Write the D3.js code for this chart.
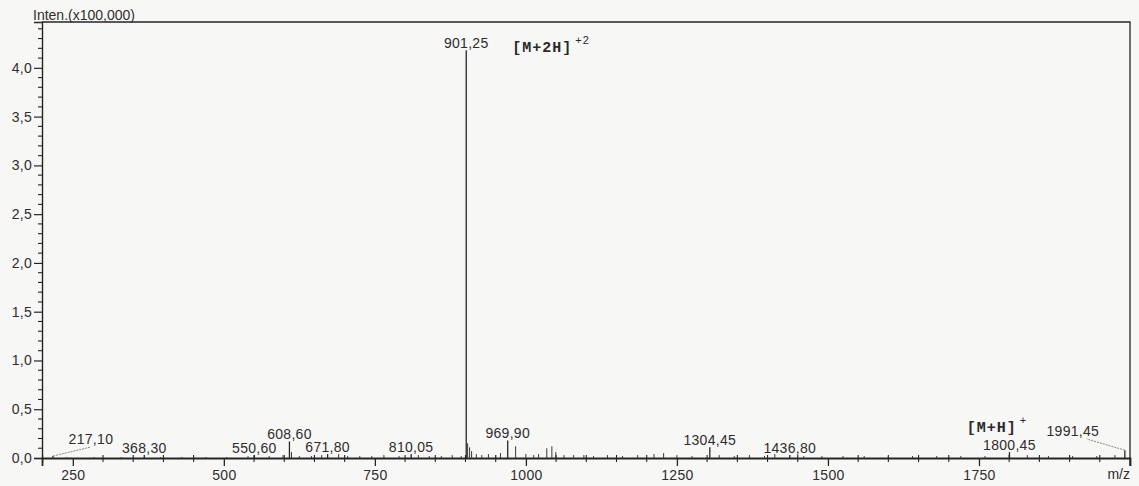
<!DOCTYPE html>
<html>
<head>
<meta charset="utf-8">
<script src="https://cdn.jsdelivr.net/npm/d3@7"></script>
<style>
  html, body { margin: 0; padding: 0; background: #f7f7f5; }
  svg { display: block; font-family: "Liberation Sans", Arial, sans-serif; }
</style>
</head>
<body>
<div id="chart"></div>
<script>
// labelled peaks (m/z, intensity x100,000)
var labelMz  = [217.10, 368.30, 550.60, 608.60, 671.80, 810.05, 901.25, 969.90, 1304.45, 1436.80, 1800.45, 1991.45];
var labelInt = [0.02,   0.03,   0.03,   0.17,   0.04,   0.04,   4.18,   0.18,   0.11,    0.03,    0.06,    0.08];

// small unlabelled peaks along the baseline
var noiseMz  = [240, 285, 330, 395, 430, 470, 505, 540, 575, 598, 612, 625, 645, 662, 690, 705, 725, 745, 765, 790,
                822, 840, 860, 878, 893, 903.5, 906.8, 910.1, 918, 927, 938, 950, 958, 983, 1000, 1013, 1021, 1034.6,
                1043, 1049.5, 1063, 1079, 1096, 1112, 1135, 1160, 1185, 1212, 1228, 1250, 1275, 1320, 1345, 1370,
                1395, 1412, 1460, 1490, 1525, 1560, 1600, 1640, 1680, 1720, 1760, 1830, 1865, 1905, 1945, 1975];
var noiseInt = [0.01, 0.01, 0.01, 0.01, 0.01, 0.01, 0.01, 0.02, 0.02, 0.03, 0.06, 0.02, 0.02, 0.03, 0.04, 0.02, 0.02, 0.02, 0.03, 0.02,
                0.03, 0.02, 0.02, 0.03, 0.02, 0.15, 0.11, 0.07, 0.04, 0.03, 0.04, 0.03, 0.05, 0.12, 0.04, 0.03, 0.04, 0.10,
                0.12, 0.06, 0.03, 0.03, 0.03, 0.02, 0.03, 0.02, 0.03, 0.04, 0.05, 0.03, 0.02, 0.03, 0.02, 0.03,
                0.02, 0.04, 0.02, 0.02, 0.02, 0.02, 0.02, 0.02, 0.02, 0.02, 0.02, 0.03, 0.02, 0.02, 0.02, 0.03];

var yMajor = [0, 0.5, 1.0, 1.5, 2.0, 2.5, 3.0, 3.5, 4.0];
var xMajor = [250, 500, 750, 1000, 1250, 1500, 1750];

var ionText   = ["[M+2H]", "[M+H]"];
var ionCharge = ["+2", "+"];
var ionPeak   = [901.25, 1991.45];

var width = 1139, height = 486;
var ink = "#262626";

var x = d3.scaleLinear().domain([199, 2000]).range([42, 1130]);
var y = d3.scaleLinear().domain([0, 4.47]).range([458, 22]);

var svg = d3.select("#chart").append("svg")
      .attr("width", width)
      .attr("height", height);

var commaFmt = function(v, digits){ return d3.format("." + digits + "f")(v).replace(".", ","); };

// frame: top line, right line
svg.append("path")
  .attr("d", "M" + x.range()[0] + "," + y.range()[1] + "H" + x.range()[1] + "V" + (y(0) + 8))
  .attr("fill", "none").attr("stroke", ink).attr("stroke-width", 1.3);

// y axis
var yAxis = svg.append("g")
  .attr("transform", "translate(" + x.range()[0] + ",0)")
  .call(d3.axisLeft(y).tickValues(yMajor).tickSize(8).tickPadding(2)
        .tickFormat(function(d){ return commaFmt(d, 1); }));
yAxis.select(".domain").attr("stroke", ink).attr("stroke-width", 1.4);
yAxis.selectAll(".tick line").attr("stroke", ink).attr("stroke-width", 1.2);
yAxis.selectAll(".tick text").attr("fill", "#2e2e2e").style("font-size", "14px")
  .style("letter-spacing", "0.3px").attr("font-family", null);

var yMinor = d3.range(0, 4.45, 0.1).filter(function(v){ return Math.abs(v * 2 - Math.round(v * 2)) > 1e-6; });
svg.append("g").selectAll("line").data(yMinor).enter().append("line")
  .attr("x1", x.range()[0] - 4).attr("x2", x.range()[0])
  .attr("y1", function(d){ return y(d); }).attr("y2", function(d){ return y(d); })
  .attr("stroke", ink).attr("stroke-width", 1.1);

// x axis
var xAxis = svg.append("g")
  .attr("transform", "translate(0," + y(0) + ")")
  .call(d3.axisBottom(x).tickValues(xMajor).tickSize(8).tickPadding(4).tickFormat(d3.format("d")));
xAxis.select(".domain").attr("stroke", ink).attr("stroke-width", 1.8);
xAxis.selectAll(".tick line").attr("stroke", ink).attr("stroke-width", 1.3);
xAxis.selectAll(".tick text").attr("fill", "#2e2e2e").style("font-size", "14px")
  .style("letter-spacing", "0.3px").attr("font-family", null);

var xMinor = d3.range(200, 2000, 50).filter(function(v){ return v % 250 !== 0; });
svg.append("g").selectAll("line").data(xMinor).enter().append("line")
  .attr("x1", function(d){ return x(d); }).attr("x2", function(d){ return x(d); })
  .attr("y1", y(0) - 3).attr("y2", y(0) + 4)
  .attr("stroke", ink).attr("stroke-width", 1.1);

// axis titles
svg.append("text")
  .attr("x", 33).attr("y", 20)
  .attr("fill", "#2e2e2e").style("font-size", "14px")
  .text("Inten.(x100,000)");
svg.append("text")
  .attr("x", x.range()[1]).attr("y", 479).attr("text-anchor", "end")
  .attr("fill", "#2e2e2e").style("font-size", "14px")
  .text("m/z");

// baseline noise peaks
svg.append("g").selectAll("line").data(noiseMz).enter().append("line")
  .attr("x1", function(d){ return x(d); }).attr("x2", function(d){ return x(d); })
  .attr("y1", y(0)).attr("y2", function(d, i){ return y(noiseInt[i]); })
  .attr("stroke", "#3a3a3a").attr("stroke-width", 1);

// labelled peaks
var peaks = labelMz.map(function(m, i){ return {mz: m, inten: labelInt[i]}; });
svg.append("g").selectAll("line").data(peaks).enter().append("line")
  .attr("x1", function(d){ return x(d.mz); }).attr("x2", function(d){ return x(d.mz); })
  .attr("y1", y(0)).attr("y2", function(d){ return y(d.inten); })
  .attr("stroke", ink).attr("stroke-width", 1.3);

// labels moved aside with a leader line
var leader = {"217.1": [38, -14], "1991.45": [-52, -22]};

var lab = svg.append("g").selectAll("g").data(peaks).enter().append("g");
lab.append("text")
  .attr("x", function(d){ var o = leader[String(d.mz)]; return x(d.mz) + (o ? o[0] : 0); })
  .attr("y", function(d){ var o = leader[String(d.mz)]; return o ? y(0) + o[1] : y(d.inten) - 2; })
  .attr("text-anchor", "middle")
  .attr("fill", "#2e2e2e").style("font-size", "14px").style("letter-spacing", "0.3px")
  .text(function(d){ return commaFmt(d.mz, 2); });

lab.filter(function(d){ return leader[String(d.mz)]; })
  .append("line")
  .attr("x1", function(d){ return x(d.mz); })
  .attr("y1", function(d){ return y(d.inten); })
  .attr("x2", function(d){ var o = leader[String(d.mz)]; return x(d.mz) + o[0] + (o[0] > 0 ? 0 : 14); })
  .attr("y2", function(d){ var o = leader[String(d.mz)]; return y(0) + o[1] + 3; })
  .attr("stroke", "#888").attr("stroke-width", 1).attr("stroke-dasharray", "2,1");

// ion annotations
var ionPos = [[46, 2], [-158, -18]];
ionText.forEach(function(t, i){
  var inten = labelInt[labelMz.indexOf(ionPeak[i])];
  var tx = x(ionPeak[i]) + ionPos[i][0];
  var ty = y(inten) + ionPos[i][1];
  var ion = svg.append("text")
    .attr("x", tx).attr("y", ty)
    .attr("fill", "#2a2a2a")
    .style("font-family", "'Liberation Mono', 'Courier New', monospace")
    .style("font-size", "15px").style("font-weight", "bold").style("letter-spacing", "1px");
  ion.append("tspan").text(t);
  ion.append("tspan").attr("dy", -8).attr("dx", 3)
    .style("font-size", "11px").style("font-family", "'Liberation Sans', Arial, sans-serif")
    .style("font-weight", "normal").text(ionCharge[i]);
});
</script>
</body>
</html>
